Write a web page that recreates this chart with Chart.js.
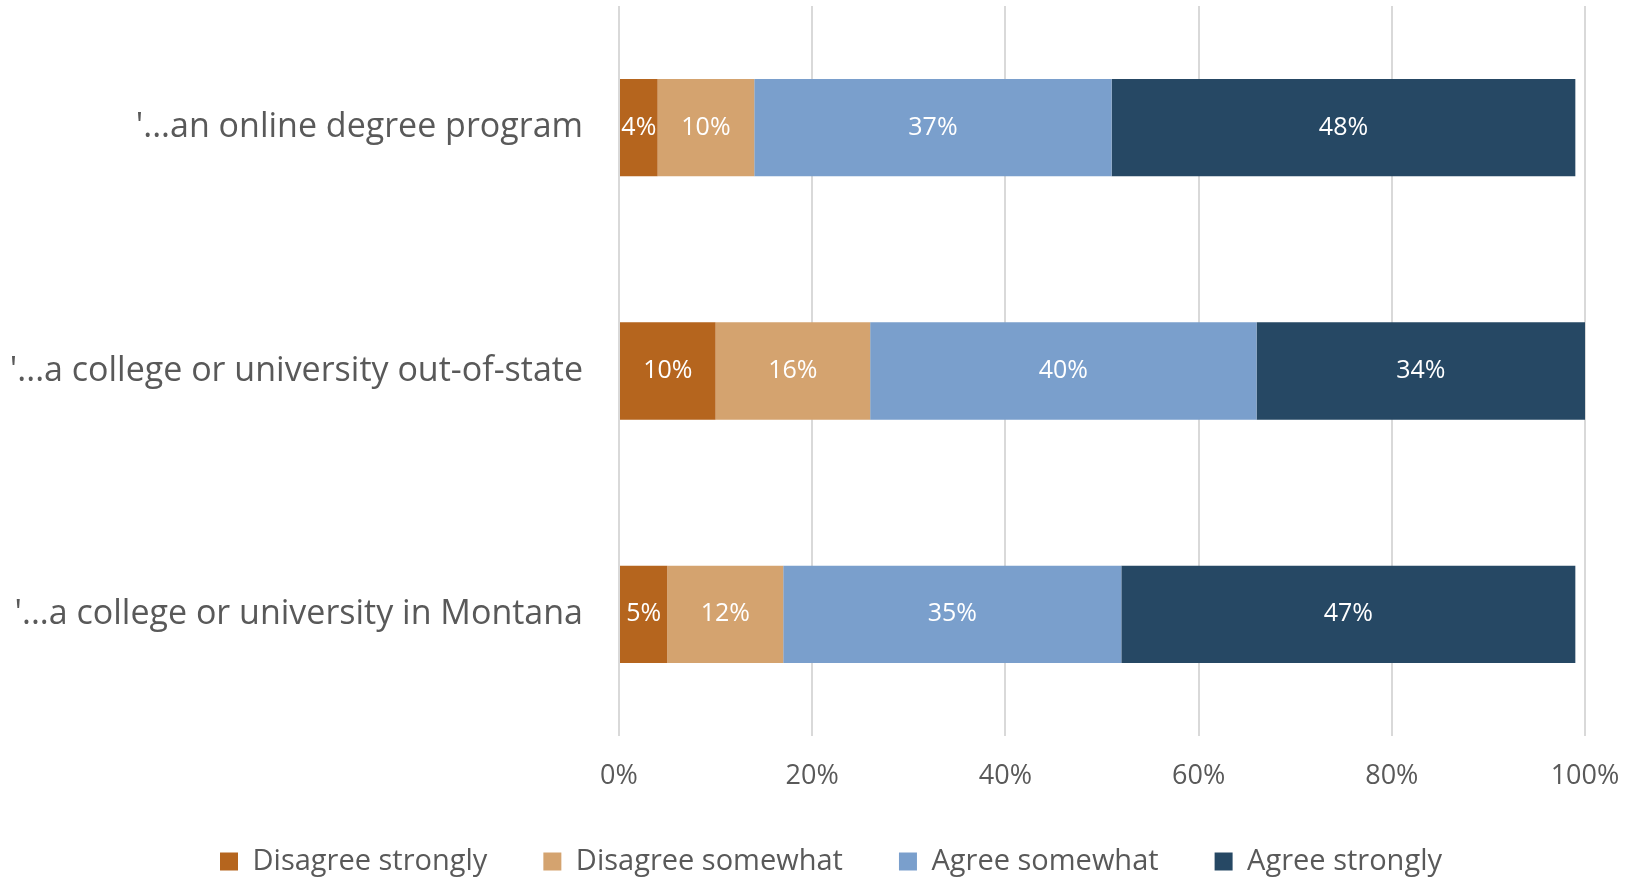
<!DOCTYPE html>
<html>
<head>
<meta charset="utf-8">
<script src="https://cdn.jsdelivr.net/npm/chart.js@4/dist/chart.umd.min.js"></script>
<style>
  html, body { margin: 0; padding: 0; background: #ffffff; }
  #wrap { width: 1627px; height: 879px; position: relative; }
</style>
</head>
<body>
<div id="wrap"><canvas id="chart" width="1627" height="879"></canvas></div>
<script>
// Survey statements (top to bottom)
const categories = [
  "'...an online degree program",
  "'...a college or university out-of-state",
  "'...a college or university in Montana"
];

// Share of respondents per answer, in percent
const disagreeStrongly = [4, 10, 5];
const disagreeSomewhat = [10, 16, 12];
const agreeSomewhat    = [37, 40, 35];
const agreeStrongly    = [48, 34, 47];

const seriesNames = ["Disagree strongly", "Disagree somewhat", "Agree somewhat", "Agree strongly"];
const seriesColors = ["#B5651E", "#D4A36F", "#7A9FCC", "#264864"];

const xTicks = [0, 20, 40, 60, 80, 100];

const FONT = "'Open Sans', 'Liberation Sans', Arial, sans-serif";
const TEXT = "#595959";

// Writes each segment's percentage in white at the centre of its bar
const segmentLabels = {
  id: 'segmentLabels',
  afterDatasetsDraw(chart) {
    const ctx = chart.ctx;
    ctx.save();
    ctx.fillStyle = '#ffffff';
    ctx.font = '25px ' + FONT;
    ctx.textAlign = 'center';
    ctx.textBaseline = 'middle';
    chart.data.datasets.forEach((ds, di) => {
      const meta = chart.getDatasetMeta(di);
      meta.data.forEach((bar, i) => {
        const v = ds.data[i];
        const cx = (bar.x + bar.base) / 2;
        ctx.fillText(v + '%', cx, bar.y);
      });
    });
    ctx.restore();
  }
};

// Centres the legend row under the plot rather than the whole canvas
const legendShift = {
  id: 'legendShift',
  afterLayout(chart) {
    if (chart.legend) {
      chart.legend.left += 77;
    }
  }
};

const allSeries = [disagreeStrongly, disagreeSomewhat, agreeSomewhat, agreeStrongly];

new Chart(document.getElementById('chart'), {
  type: 'bar',
  data: {
    labels: categories,
    datasets: allSeries.map((vals, k) => ({
      label: seriesNames[k],
      data: vals,
      backgroundColor: seriesColors[k],
      borderWidth: 0,
      categoryPercentage: 0.8,
      barPercentage: 0.5
    }))
  },
  options: {
    indexAxis: 'y',
    responsive: false,
    animation: false,
    layout: { padding: { left: 0, right: 42, top: 6, bottom: 0 } },
    scales: {
      x: {
        stacked: true,
        min: 0,
        max: 100,
        afterBuildTicks(scale) { scale.ticks = xTicks.map(v => ({ value: v })); },
        afterFit(scale) {
          scale.height = 55;
          scale.paddingLeft = 0;
          scale.paddingRight = 0;
        },
        grid: { color: '#d9d9d9', lineWidth: 2, drawTicks: false },
        border: { display: false },
        ticks: {
          padding: 24,
          color: TEXT,
          font: { family: FONT, size: 27 },
          callback: v => v + '%'
        }
      },
      y: {
        stacked: true,
        afterFit(scale) {
          scale.width = 619;
          scale.paddingTop = 0;
          scale.paddingBottom = 0;
        },
        grid: { display: false, drawTicks: false },
        border: { display: false },
        ticks: {
          padding: 36,
          color: TEXT,
          font: { family: FONT, size: 34 }
        }
      }
    },
    plugins: {
      tooltip: { enabled: false },
      legend: {
        position: 'bottom',
        maxHeight: 88,
        labels: {
          boxWidth: 18,
          boxHeight: 18,
          padding: 56,
          color: TEXT,
          font: { family: FONT, size: 29 }
        }
      }
    }
  },
  plugins: [segmentLabels, legendShift]
});
</script>
</body>
</html>
